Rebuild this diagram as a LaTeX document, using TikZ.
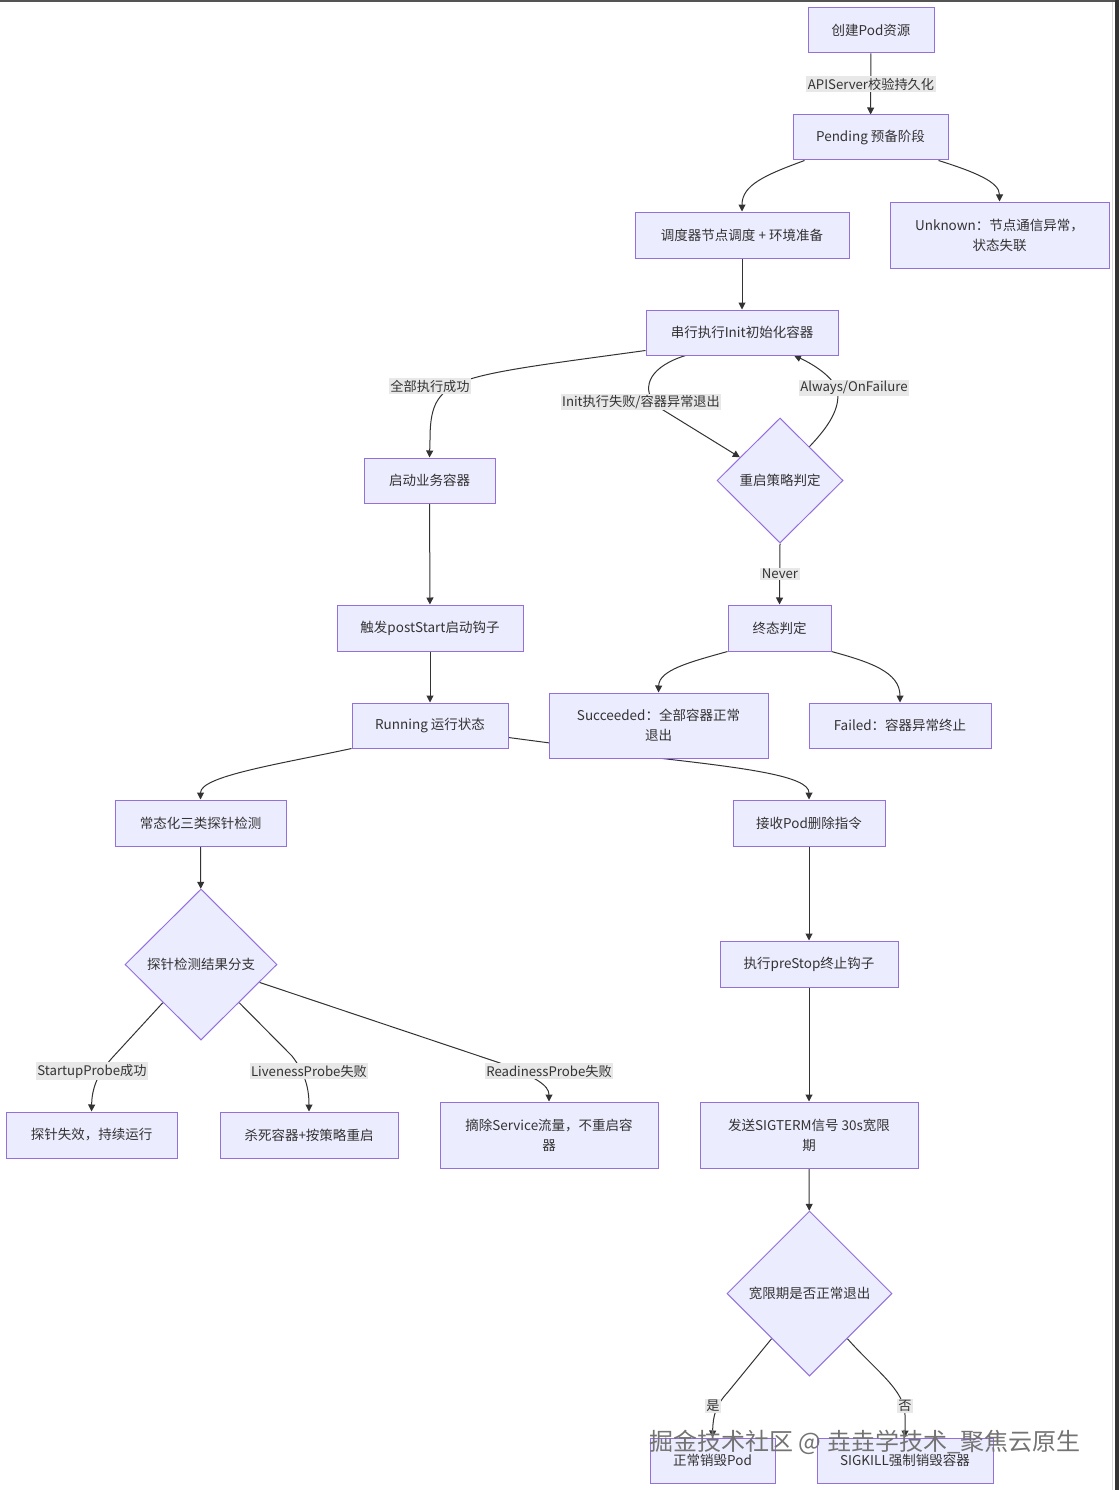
\documentclass[tikz,border=0pt]{standalone}
\usepackage{fontspec}
\setmainfont{Noto Sans CJK SC}
\usetikzlibrary{shapes.geometric,arrows.meta,backgrounds}
\pgfdeclarelayer{paper}
\pgfsetlayers{paper,background,main}
\definecolor{nfill}{HTML}{ECECFF}
\definecolor{nline}{HTML}{9370DB}
\definecolor{eline}{HTML}{333333}
\definecolor{lfill}{HTML}{E8E8E8}
\definecolor{txt}{HTML}{333333}
\tikzset{
  box/.style={draw=nline,fill=nfill,line width=1pt,text=txt,align=center,inner sep=0pt,
    font=\fontsize{13.5}{20}\selectfont},
  dia/.style={diamond,draw=nline,fill=nfill,line width=1pt,text=txt,inner sep=0pt,aspect=1,
    font=\fontsize{13.5}{20}\selectfont},
  lbl/.style={fill=lfill,text=txt,inner sep=1.5pt,font=\fontsize{13.2}{17}\selectfont},
  edge/.style={draw=eline,line width=1pt,-{Triangle[length=7pt,width=7pt]}},
}
\begin{document}
\begin{tikzpicture}[x=1pt,y=-1pt]
\useasboundingbox (0,0) rectangle (1119,1490);
\begin{pgfonlayer}{paper}
\fill[white] (0,0) rectangle (1119,1490);
% frame lines of the screenshot
\fill[black!67] (0,0) rectangle (1119,2);
\fill[black!80] (1115,0) rectangle (1119,1490);
\draw[black!15,line width=0.8pt] (1112.5,2) -- (1112.5,1490);
\end{pgfonlayer}

% nodes
\node[box,minimum width=126,minimum height=45] (n1) at (871,30.5) {创建Pod资源};
\node[box,minimum width=155,minimum height=45] (n2) at (870.5,137.5) {Pending 预备阶段};
\node[box,minimum width=214,minimum height=46] (n3) at (742,235) {调度器节点调度 + 环境准备};
\node[box,minimum width=219,minimum height=66] (n4) at (999.5,235) {Unknown：节点通信异常，\\状态失联};
\node[box,minimum width=192,minimum height=45] (n5) at (742,332.5) {串行执行Init初始化容器};
\node[box,minimum width=131,minimum height=45] (n6) at (429.5,480.5) {启动业务容器};
\node[dia,minimum width=126,minimum height=125] (n7) at (780,480.5) {重启策略判定};
\node[box,minimum width=186,minimum height=46] (n8) at (430,628) {触发postStart启动钩子};
\node[box,minimum width=103,minimum height=46] (n9) at (779.5,628) {终态判定};
\node[box,minimum width=156,minimum height=45] (n10) at (430,725.5) {Running 运行状态};
\node[box,minimum width=219,minimum height=65] (n11) at (658.5,725.5) {Succeeded：全部容器正常\\退出};
\node[box,minimum width=182,minimum height=45] (n12) at (900,725.5) {Failed：容器异常终止};
\node[box,minimum width=171,minimum height=46] (n13) at (200.5,823) {常态化三类探针检测};
\node[box,minimum width=152,minimum height=46] (n14) at (809,823) {接收Pod删除指令};
\node[dia,minimum width=152,minimum height=151] (n15) at (201,964.5) {探针检测结果分支};
\node[box,minimum width=178,minimum height=46] (n16) at (809,964) {执行preStop终止钩子};
\node[box,minimum width=171,minimum height=46] (n17) at (91.5,1135) {探针失效，持续运行};
\node[box,minimum width=178,minimum height=46] (n18) at (309,1135) {杀死容器+按策略重启};
\node[box,minimum width=218,minimum height=66] (n19) at (549,1135) {摘除Service流量，不重启容\\器};
\node[box,minimum width=218,minimum height=66] (n20) at (809,1135) {发送SIGTERM信号 30s宽限\\期};
\node[dia,minimum width=165,minimum height=165] (n21) at (809.5,1293.5) {宽限期是否正常退出};
\node[box,minimum width=125,minimum height=45] (n22) at (712.5,1460.5) {正常销毁Pod};
\node[box,minimum width=176,minimum height=45] (n23) at (905,1460.5) {SIGKILL强制销毁容器};

% edges (behind nodes)
\begin{pgfonlayer}{background}
\path[edge] (n1) -- (n2);
\path[edge] ([xshift=12pt]n2.south west) .. controls (765,175) and (742,185) .. (n3.north);
\path[edge] ([xshift=-10pt]n2.south east) .. controls (975,172) and (999.5,182) .. (n4.north);
\path[edge] (n3) -- (n5);
\path[edge] ([yshift=5pt]n5.south west) .. controls (540,365) and (480,372) .. (455,385)
   .. controls (435,396) and (430,410) .. (430,440) -- (n6.north);
\path[edge] ([xshift=40pt]n5.south west) .. controls (652,366) and (640,385) .. (655,405) -- (n7.150);
\path[edge] (n7.49) .. controls (830,425) and (838,410) .. (838,395)
   .. controls (838,380) and (815,365) .. ([xshift=52pt]n5.south);
\path[edge] (n7.south) -- (n9.north);
\path[edge] (n6) -- (n8);
\path[edge] (n8) -- (n10);
\path[edge] (n9.south west) .. controls (690,662) and (659,670) .. (n11.north);
\path[edge] (n9.south east) .. controls (870,662) and (900,672) .. (n12.north);
\path[edge] (n10.south west) .. controls (280,764) and (200.5,776) .. (n13.north);
\path[edge] ([yshift=11pt]n10.south east) .. controls (580,747) and (620,752) .. (658,758)
   .. controls (745,768) and (809,776) .. (n14.north);
\path[edge] (n13) -- (n15);
\path[edge] (n15.225) -- (112,1058) .. controls (97,1075) and (92,1088) .. (n17.north);
\path[edge] (n15.315) -- (292,1056) .. controls (305,1073) and (309,1088) .. (n18.north);
\path[edge] (n15.343) -- (500,1063) .. controls (535,1077) and (549,1085) .. (n19.north);
\path[edge] (n14) -- (n16);
\path[edge] (n16) -- (n20);
\path[edge] (n20) -- (n21);
\path[edge] (n21.230) -- (728,1392) .. controls (716,1405) and (713,1415) .. (n22.north);
\path[edge] (n21.310) .. controls (875,1370) and (905,1390) .. (905,1415) -- (n23.north);
\end{pgfonlayer}

% edge labels
\node[lbl] (l1) at (871,84) {APIServer校验持久化};
\node[lbl] (l5) at (430,386) {全部执行成功};
\node[lbl] (l6) at (641,402) {Init执行失败/容器异常退出};
\node[lbl] (l7) at (854,388) {Always/OnFailure};
\node[lbl] (l8) at (780,574) {Never};
\node[lbl] (l15) at (92,1071) {StartupProbe成功};
\node[lbl] (l16) at (309,1071) {LivenessProbe失败};
\node[lbl] (l17) at (549,1071) {ReadinessProbe失败};
\node[lbl] (l19) at (713,1406) {是};
\node[lbl] (l20) at (905,1406) {否};

% watermark
\node[text=black!55,font=\fontsize{24}{28}\selectfont,inner sep=0pt] (wm) at (865,1442) {掘金技术社区 @ 垚垚学技术\_聚焦云原生};
\end{tikzpicture}
\end{document}
